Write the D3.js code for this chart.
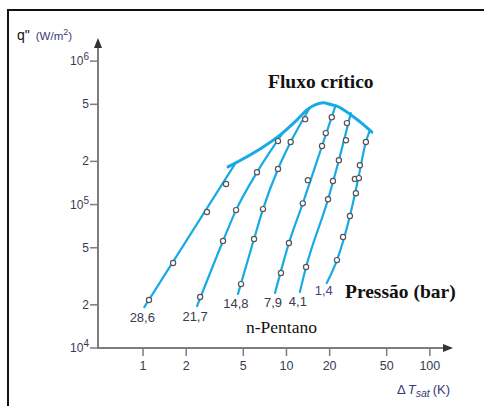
<!DOCTYPE html>
<html>
<head>
<meta charset="utf-8">
<script src="https://cdn.jsdelivr.net/npm/d3@7"></script>
<style>
  html, body { margin: 0; padding: 0; background: #fff; }
  svg { display: block; }
  .serif { font-family: "Liberation Serif", "DejaVu Serif", "Noto Serif", "FreeSerif", "Times New Roman", Times, serif; }
</style>
</head>
<body>
<div id="chart"></div>
<script>
// pressure of each curve (bar), as labelled
const pressures = ["28,6", "21,7", "14,8", "7,9", "4,1", "1,4"];

// drawn curve of each pressure, [ΔT_sat (K), q'' (W/m²)]
const curve286 = [[1.02, 1.93e4], [4.38, 1.92e5]];
const curve217 = [[2.38, 1.96e4], [3.61, 5.57e4], [4.45, 9.15e4], [6.23, 1.68e5], [9.3, 3.1e5]];
const curve148 = [[4.59, 2.38e4], [5.94, 5.75e4], [6.86, 9.3e4], [8.73, 1.77e5], [10.7, 2.73e5], [14.6, 4.75e5]];
const curve79 = [[8.32, 2.42e4], [10.4, 5.39e4], [13.0, 1.02e5], [17.7, 2.56e5], [22.0, 4.9e5]];
const curve41 = [[12.4, 2.46e4], [13.7, 3.67e4], [19.5, 1.09e5], [23.2, 2.04e5], [28.1, 4.34e5]];
const curve14 = [[19.1, 2.84e4], [22.5, 4.1e4], [27.7, 8.32e4], [31.5, 1.48e5], [35.8, 2.73e5], [38.2, 3.31e5]];

// measured points
const pts286 = [[1.10, 2.16e4], [1.62, 3.91e4], [2.79, 8.87e4], [3.79, 1.39e5]];
const pts217 = [[2.50, 2.27e4], [3.61, 5.57e4], [4.45, 9.15e4], [6.23, 1.68e5], [8.73, 2.77e5]];
const pts148 = [[4.82, 2.79e4], [5.94, 5.75e4], [6.86, 9.3e4], [8.73, 1.77e5], [10.7, 2.73e5], [13.5, 3.94e5]];
const pts79 = [[9.16, 3.33e4], [10.4, 5.39e4], [13.0, 1.02e5], [14.1, 1.48e5], [17.7, 2.56e5], [18.8, 3.15e5], [20.7, 4.07e5]];
const pts41 = [[13.7, 3.67e4], [19.5, 1.09e5], [21.1, 1.46e5], [23.2, 2.04e5], [26.0, 2.81e5], [26.4, 3.7e5]];
const pts14 = [[22.5, 4.1e4], [24.8, 5.94e4], [27.7, 8.32e4], [30.5, 1.2e5], [30.0, 1.51e5], [32.0, 1.53e5], [32.5, 1.88e5], [35.8, 2.73e5]];

// critical heat flux envelope
const chf = [[3.91, 1.83e5], [6.54, 2.44e5], [9.01, 3.05e5], [11.8, 3.88e5], [14.1, 4.63e5], [16.0, 4.97e5], [18.0, 5.12e5], [20.5, 4.98e5], [22.5, 4.86e5], [27.7, 4.27e5], [34.1, 3.64e5], [39.4, 3.2e5]];

// axis ticks
const xTicks = [1, 2, 5, 10, 20, 50, 100];
const yTicks = [1e4, 2e4, 5e4, 1e5, 2e5, 5e5, 1e6];
const yTickLabels = [["10", "4"], ["2"], ["5"], ["10", "5"], ["2"], ["5"], ["10", "6"]];

const curves = [curve286, curve217, curve148, curve79, curve41, curve14];
const points = [pts286, pts217, pts148, pts79, pts41, pts14];

const width = 484, height = 406;
const blue = "#17aae6";
const axisColor = "#7d7d7d";
const sans = "'Liberation Sans', Arial, sans-serif";

const svg = d3.select("#chart").append("svg")
  .attr("width", width)
  .attr("height", height);

// frame (top and left edges visible)
svg.append("line").attr("x1", 8).attr("x2", width).attr("y1", 10).attr("y2", 10)
  .attr("stroke", "#111").attr("stroke-width", 2);
svg.append("line").attr("x1", 8).attr("x2", 8).attr("y1", 9).attr("y2", height)
  .attr("stroke", "#111").attr("stroke-width", 2);

const x = d3.scaleLog().domain([0.485, 145]).range([98, 453]);
const y = d3.scaleLog().domain([1e4, 1.45e6]).range([348, 38]);

// axes
const ax = svg.append("g");
const x0 = x(0.485), y0 = y(1e4);
ax.append("line").attr("x1", x0).attr("x2", x(140)).attr("y1", y0).attr("y2", y0)
  .attr("stroke", axisColor).attr("stroke-width", 2);
ax.append("line").attr("x1", x0).attr("x2", x0).attr("y1", y0 + 1).attr("y2", y(1.4e6))
  .attr("stroke", axisColor).attr("stroke-width", 2);
// arrow heads
ax.append("path")
  .attr("d", `M${x(145)},${y0} l-10,-4 l0,8 z`)
  .attr("fill", "#333");
ax.append("path")
  .attr("d", `M${x0},${y(1.45e6)} l-4,10 l8,0 z`)
  .attr("fill", "#333");

ax.selectAll(".xt").data(xTicks).join("line")
  .attr("x1", d => x(d)).attr("x2", d => x(d))
  .attr("y1", y0).attr("y2", y0 + 8)
  .attr("stroke", axisColor).attr("stroke-width", 1.5);
ax.selectAll(".xl").data(xTicks).join("text")
  .attr("x", d => x(d)).attr("y", y0 + 22)
  .attr("text-anchor", "middle")
  .attr("font-family", sans).attr("font-size", 12.5)
  .attr("fill", "#3a3a55")
  .text(d => d);

ax.selectAll(".yt").data(yTicks).join("line")
  .attr("x1", x0 - 8).attr("x2", x0)
  .attr("y1", d => y(d)).attr("y2", d => y(d))
  .attr("stroke", axisColor).attr("stroke-width", 1.5);
const yl = ax.selectAll(".yl").data(yTicks).join("text")
  .attr("x", x0 - 9).attr("y", d => y(d) + 4)
  .attr("text-anchor", "end")
  .attr("font-family", sans).attr("font-size", 12)
  .attr("fill", "#3a3a55");
yl.each(function (d, i) {
  const lab = yTickLabels[i];
  const t = d3.select(this);
  t.append("tspan").text(lab[0]);
  if (lab[1]) t.append("tspan").attr("dy", -5).attr("font-size", 10).text(lab[1]);
});

// axis titles
const yTitle = svg.append("text").attr("x", 17).attr("y", 40)
  .attr("font-family", sans).attr("font-size", 14).attr("fill", "#111");
yTitle.append("tspan").text("q\"");
yTitle.append("tspan").attr("dx", 6).attr("font-size", 11.5).attr("fill", "#3a3a7a").text("(W/m");
yTitle.append("tspan").attr("dy", -5).attr("font-size", 9).attr("fill", "#3a3a7a").text("2");
yTitle.append("tspan").attr("dy", 5).attr("font-size", 11.5).attr("fill", "#3a3a7a").text(")");

const xTitle = svg.append("text").attr("x", 397).attr("y", 394)
  .attr("font-family", sans).attr("font-size", 13).attr("fill", "#3a3a7a");
xTitle.append("tspan").text("\u0394");
xTitle.append("tspan").attr("dx", 2).attr("font-style", "italic").text("T");
xTitle.append("tspan").attr("dy", 3).attr("font-size", 10.5).attr("font-style", "italic").text("sat");
xTitle.append("tspan").attr("dy", -3).attr("dx", 3).text("(K)");

// curves
const line = d3.line()
  .x(d => x(d[0]))
  .y(d => y(d[1]))
  .curve(d3.curveMonotoneX);

svg.append("g").selectAll("path").data(curves).join("path")
  .attr("d", line)
  .attr("fill", "none")
  .attr("stroke", blue)
  .attr("stroke-width", 2.2)
  .attr("stroke-linecap", "round");

svg.append("path").datum(chf)
  .attr("d", line)
  .attr("fill", "none")
  .attr("stroke", blue)
  .attr("stroke-width", 3)
  .attr("stroke-linecap", "round")
  .attr("stroke-linejoin", "round");

// measured points
svg.append("g").selectAll("circle").data(points.flat()).join("circle")
  .attr("cx", d => x(d[0]))
  .attr("cy", d => y(d[1]))
  .attr("r", 2.6)
  .attr("fill", "#fff")
  .attr("stroke", "#555")
  .attr("stroke-width", 1.2);

// pressure labels under each curve
svg.append("g").selectAll("text").data(curves).join("text")
  .attr("x", (d, i) => x(d[0][0]) - (i === 5 ? 3 : 2))
  .attr("y", (d, i) => y(d[0][1]) + (i === 5 ? 12.5 : 14.5))
  .attr("text-anchor", "middle")
  .attr("font-family", sans).attr("font-size", 13)
  .attr("fill", (d, i) => i === 5 ? "#4a3f86" : "#3a3a50")
  .text((d, i) => pressures[i]);

// annotations
svg.append("text").attr("class", "serif").attr("x", 268).attr("y", 88)
  .attr("font-weight", "bold").attr("font-size", 19.5)
  .attr("fill", "#111").text("Fluxo crítico");
svg.append("text").attr("class", "serif").attr("x", 345).attr("y", 298)
  .attr("font-weight", "bold").attr("font-size", 19.5)
  .attr("fill", "#111").text("Pressão (bar)");
svg.append("text").attr("class", "serif").attr("x", 246).attr("y", 333)
  .attr("font-size", 17.5)
  .attr("fill", "#111").text("n-Pentano");
</script>
</body>
</html>
